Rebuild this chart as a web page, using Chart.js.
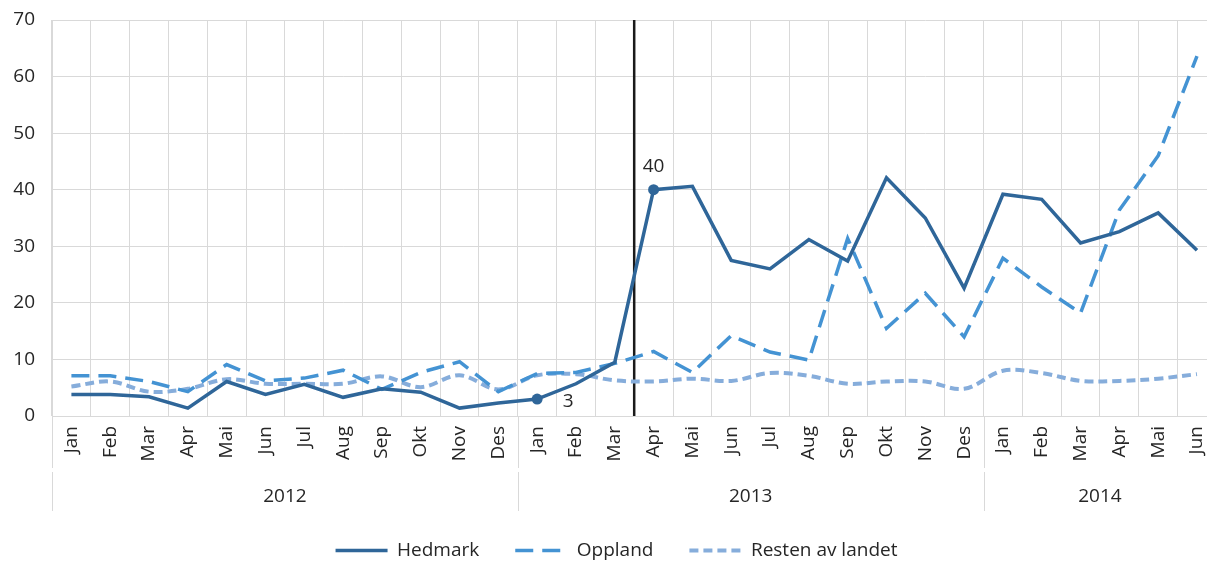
<!DOCTYPE html>
<html>
<head>
<meta charset="utf-8">
<title>Hedmark, Oppland og resten av landet</title>
<script src="https://cdn.jsdelivr.net/npm/chart.js@4.4.1/dist/chart.umd.min.js"></script>
<style>
  html, body { margin: 0; padding: 0; background: #ffffff; overflow: hidden; }
  #wrap { width: 1207px; height: 562px; overflow: hidden; position: relative; }
  canvas { display: block; }
</style>
</head>
<body>
<div id="wrap"><canvas id="chart" width="1230" height="570"></canvas></div>
<script>
// Months Jan 2012 – Jun 2014
const months = [
  'Jan','Feb','Mar','Apr','Mai','Jun','Jul','Aug','Sep','Okt','Nov','Des',
  'Jan','Feb','Mar','Apr','Mai','Jun','Jul','Aug','Sep','Okt','Nov','Des',
  'Jan','Feb','Mar','Apr','Mai','Jun'
];
const years = ['2012', '2013', '2014'];
const monthsPerYear = [12, 12, 6];

const hedmark = [
  3.8, 3.8, 3.4, 1.4, 6.1, 3.8, 5.6, 3.3, 4.8, 4.2, 1.4, 2.3,
  3, 5.7, 9.5, 40, 40.6, 27.5, 26.0, 31.2, 27.4, 42.1, 35.0, 22.6,
  39.2, 38.3, 30.6, 32.6, 35.9, 29.3
];
const oppland = [
  7.1, 7.1, 6.1, 4.3, 9.1, 6.2, 6.7, 8.1, 4.7, 7.7, 9.6, 4.3,
  7.5, 7.7, 9.3, 11.4, 7.7, 14.2, 11.3, 9.9, 31.4, 15.5, 21.7, 14.0,
  27.9, 22.8, 18.2, 36.4, 46.0, 63.6
];
const restenAvLandet = [
  5.2, 6.1, 4.3, 4.8, 6.5, 5.7, 5.7, 5.7, 7.0, 5.1, 7.2, 4.7,
  7.2, 7.4, 6.3, 6.1, 6.6, 6.2, 7.6, 7.1, 5.7, 6.1, 6.1, 4.8,
  8.0, 7.6, 6.2, 6.2, 6.6, 7.4
];

// Hedmark points that carry a marker and a value label (Jan 2013, Apr 2013)
const hedmarkLabelled = [12, 15];
// Vertical divider drawn after this month index (Mar 2013)
const dividerAfter = 14;

const FONT = "'Open Sans', 'Noto Sans', sans-serif";
const FONT_SIZE = 19;
const TEXT = '#262626';
const GRID = '#d9d9d9';

const labelOffsets = { 12: { dx: 31, dy: 3 }, 15: { dx: 0, dy: -23 } };

const extras = {
  id: 'extras',
  afterLayout(chart) {
    // nudge the legend row slightly to the right
    chart.legend.left += 8;
    chart.legend.right += 8;
  },
  beforeDatasetsDraw(chart) {
    const { ctx, chartArea, scales: { x } } = chart;
    const bx = (x.getPixelForValue(dividerAfter) + x.getPixelForValue(dividerAfter + 1)) / 2;
    ctx.save();
    ctx.strokeStyle = '#1a1a1a';
    ctx.lineWidth = 2.5;
    ctx.beginPath();
    ctx.moveTo(bx, chartArea.top);
    ctx.lineTo(bx, chartArea.bottom);
    ctx.stroke();
    ctx.restore();
  },
  afterDatasetsDraw(chart) {
    const { ctx } = chart;
    const meta = chart.getDatasetMeta(0);
    ctx.save();
    ctx.font = FONT_SIZE + 'px ' + FONT;
    ctx.fillStyle = TEXT;
    ctx.textAlign = 'center';
    ctx.textBaseline = 'middle';
    hedmarkLabelled.forEach(i => {
      const pt = meta.data[i];
      const off = labelOffsets[i];
      ctx.fillText(String(Math.round(hedmark[i])), pt.x + off.dx, pt.y + off.dy);
    });
    ctx.restore();
  },
  afterDraw(chart) {
    const { ctx, chartArea, scales: { x } } = chart;
    const step = x.getPixelForValue(1) - x.getPixelForValue(0);
    const base = chartArea.bottom;
    ctx.save();
    ctx.strokeStyle = GRID;
    ctx.lineWidth = 1;
    ctx.font = FONT_SIZE + 'px ' + FONT;
    ctx.fillStyle = TEXT;
    ctx.textAlign = 'center';
    ctx.textBaseline = 'middle';
    let start = 0;
    monthsPerYear.forEach((n, k) => {
      const left = Math.round(x.getPixelForValue(start) - step / 2) + 0.5;
      ctx.beginPath();
      ctx.moveTo(left, base);
      ctx.lineTo(left, base + 52);
      ctx.moveTo(left, base + 56);
      ctx.lineTo(left, base + 95);
      ctx.stroke();
      const mid = (x.getPixelForValue(start) + x.getPixelForValue(start + n - 1)) / 2;
      ctx.fillText(years[k], mid, base + 81);
      start += n;
    });
    ctx.restore();
  }
};

new Chart(document.getElementById('chart'), {
  type: 'line',
  data: {
    labels: months,
    datasets: [
      {
        label: 'Hedmark',
        data: hedmark,
        borderColor: '#2f6699',
        backgroundColor: '#2f6699',
        borderWidth: 3.5,
        tension: 0,
        pointRadius: months.map((_, i) => hedmarkLabelled.includes(i) ? 5.5 : 0),
        pointBorderWidth: 0,
        pointBackgroundColor: '#2f6699'
      },
      {
        label: 'Oppland',
        data: oppland,
        borderColor: '#4493d3',
        backgroundColor: '#4493d3',
        borderWidth: 3.5,
        borderDash: [18, 9],
        tension: 0,
        pointRadius: 0
      },
      {
        label: 'Resten av landet',
        data: restenAvLandet,
        borderColor: '#86addb',
        backgroundColor: '#86addb',
        borderWidth: 4,
        borderDash: [9, 5],
        tension: 0.35,
        pointRadius: 0
      }
    ]
  },
  options: {
    responsive: false,
    animation: false,
    events: [],
    devicePixelRatio: 1,
    layout: { padding: { left: 0, right: 13, top: 20, bottom: 0 } },
    plugins: {
      legend: {
        position: 'bottom',
        labels: {
          usePointStyle: true,
          pointStyleWidth: 52,
          padding: 36,
          color: TEXT,
          font: { family: FONT, size: FONT_SIZE },
          generateLabels(chart) {
            return chart.data.datasets.map((ds, i) => ({
              text: ds.label,
              datasetIndex: i,
              fillStyle: ds.borderColor,
              strokeStyle: ds.borderColor,
              fontColor: TEXT,
              lineWidth: ds.borderWidth,
              lineDash: ds.borderDash || [],
              lineCap: 'butt',
              pointStyle: 'line',
              hidden: false
            }));
          }
        }
      },
      tooltip: { enabled: false }
    },
    scales: {
      x: {
        type: 'category',
        offset: true,
        grid: { offset: true, color: GRID, lineWidth: 1, drawTicks: false },
        border: { color: GRID },
        ticks: {
          autoSkip: false,
          maxRotation: 90,
          minRotation: 90,
          padding: 10,
          color: TEXT,
          font: { family: FONT, size: FONT_SIZE }
        },
        afterFit(scale) { scale.height = 89; }
      },
      y: {
        min: 0,
        max: 70,
        ticks: {
          stepSize: 10,
          padding: 0,
          color: TEXT,
          font: { family: FONT, size: FONT_SIZE }
        },
        grid: {
          color: GRID,
          lineWidth: 1,
          drawTicks: true,
          tickLength: 17,
          tickColor: 'rgba(0,0,0,0)'
        },
        border: { color: GRID },
        afterFit(scale) { scale.width = 52; }
      }
    }
  },
  plugins: [extras]
});
</script>
</body>
</html>
